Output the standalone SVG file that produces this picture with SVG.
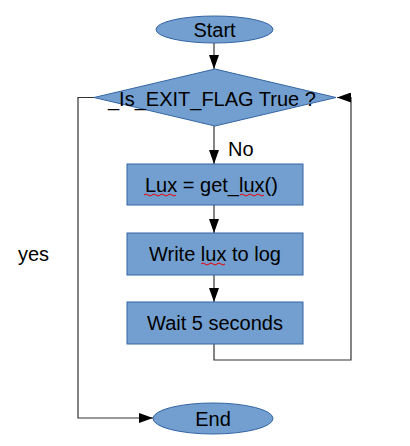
<svg xmlns="http://www.w3.org/2000/svg" width="410" height="446" viewBox="0 0 410 446">
<defs>
<style>
.shape{fill:#729fcf;stroke:#3465a4;stroke-width:1}
.lbl{font-family:"Liberation Sans",Arial,sans-serif;font-size:20px;fill:#000}
.mid{text-anchor:middle}
.conn{fill:none;stroke:#333;stroke-width:1.2}
.sq{fill:none;stroke:#e00;stroke-width:1}
</style>
<marker id="arr" markerUnits="userSpaceOnUse" markerWidth="14" markerHeight="10" refX="14" refY="5" orient="auto">
<path d="M0,0 L14,5 L0,10 z" fill="#000"/>
</marker>
</defs>
<rect width="410" height="446" fill="#fff"/>
<g id="connectors">
<path class="conn" d="M214,43 V69" marker-end="url(#arr)"/>
<path class="conn" d="M214,126 V164" marker-end="url(#arr)"/>
<path class="conn" d="M214,205 V233" marker-end="url(#arr)"/>
<path class="conn" d="M214,275 V302" marker-end="url(#arr)"/>
<path class="conn" d="M214,344 V360 H351 V97.5 H337" marker-end="url(#arr)"/>
<path class="conn" d="M94,97.5 H78 V418 H153" marker-end="url(#arr)"/>
<text class="lbl" x="228" y="156">No</text>
<text class="lbl" x="18" y="261">yes</text>
</g>
<g id="start">
<ellipse class="shape" cx="214.5" cy="29.5" rx="58.5" ry="13.5"/>
<text class="lbl mid" x="214.5" y="36.5">Start</text>
</g>
<g id="decision">
<polygon class="shape" points="215,69 336,97.5 215,126 94,97.5"/>
<text class="lbl" x="108" y="106">_Is_EXIT_FLAG True ?</text>
</g>
<g id="getlux">
<rect class="shape" x="127" y="164" width="176" height="41"/>
<text class="lbl" x="145" y="192">Lux = get_lux()</text>
<path class="sq" d="M144,195 q2,-2 4,0 t4,0 t4,0 t4,0 t4,0 t4,0 t4,0 t4,0"/>
<path class="sq" d="M240,195 q2,-2 4,0 t4,0 t4,0 t4,0 t4,0 t4,0"/>
</g>
<g id="writelog">
<rect class="shape" x="127" y="233" width="176" height="42"/>
<text class="lbl" x="149" y="261">Write lux to log</text>
<path class="sq" d="M201,264 q2,-2 4,0 t4,0 t4,0 t4,0 t4,0 t4,0"/>
</g>
<g id="wait">
<rect class="shape" x="127" y="302" width="176" height="42"/>
<text class="lbl mid" x="215" y="330">Wait 5 seconds</text>
</g>
<g id="end">
<ellipse class="shape" cx="213" cy="418.5" rx="60" ry="15.5"/>
<text class="lbl mid" x="213" y="425.5">End</text>
</g>
</svg>
